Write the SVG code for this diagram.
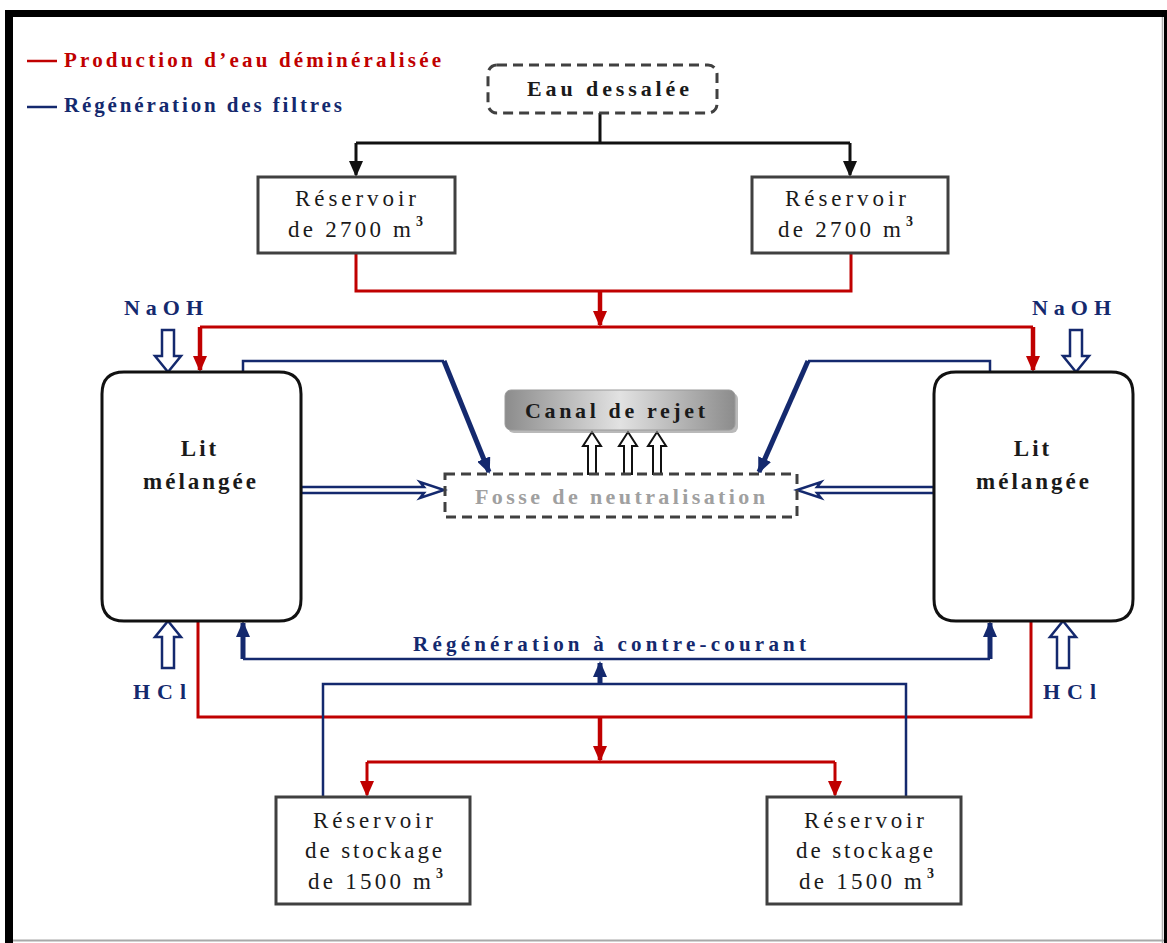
<svg xmlns="http://www.w3.org/2000/svg" width="1167" height="943" viewBox="0 0 1167 943">
  <style>
    text { font-family: "Liberation Serif", "DejaVu Serif", "Times New Roman", serif; font-weight: bold; }
    .reg { font-weight: normal; }
    .blk { fill: #1a1a1a; }
    .navy { fill: #14296e; }
    .red { fill: #c00000; }
    .box { fill: #ffffff; stroke: #404040; stroke-width: 3; }
    .dash { fill: #ffffff; stroke: #404040; stroke-width: 3; stroke-dasharray: 10 6; }
    .lit { fill: #ffffff; stroke: #111111; stroke-width: 3; }
    .lr { fill: none; stroke: #c00000; stroke-width: 3; }
    .lrt { fill: none; stroke: #c00000; stroke-width: 4.5; }
    .lb { fill: none; stroke: #14296e; stroke-width: 2.5; }
    .lbt { fill: none; stroke: #14296e; stroke-width: 5; }
    .lk { fill: none; stroke: #111111; stroke-width: 3; }
    .hollow { fill: #ffffff; stroke: #14296e; stroke-width: 2.5; stroke-linejoin: miter; }
    .hollowk { fill: #ffffff; stroke: #111111; stroke-width: 2; }
  </style>
  <defs>
    <marker id="ahRed" markerWidth="16" markerHeight="14" refX="14" refY="7" orient="auto" markerUnits="userSpaceOnUse">
      <path d="M0,0 L16,7 L0,14 Z" fill="#c00000"/>
    </marker>
    <marker id="ahBlue" markerWidth="16" markerHeight="14" refX="14" refY="7" orient="auto" markerUnits="userSpaceOnUse">
      <path d="M0,0 L16,7 L0,14 Z" fill="#14296e"/>
    </marker>
    <marker id="ahBlk" markerWidth="16" markerHeight="14" refX="14" refY="7" orient="auto" markerUnits="userSpaceOnUse">
      <path d="M0,0 L16,7 L0,14 Z" fill="#111111"/>
    </marker>
    <linearGradient id="metal" x1="0" y1="0" x2="1" y2="0">
      <stop offset="0" stop-color="#8c8c8c"/>
      <stop offset="0.5" stop-color="#e2e2e2"/>
      <stop offset="1" stop-color="#8c8c8c"/>
    </linearGradient>
  </defs>

  <!-- page frame -->
  <rect x="0" y="0" width="1167" height="943" fill="#ffffff"/>
  <rect x="5" y="10" width="1162" height="7" fill="#000000"/>
  <rect x="5" y="10" width="8" height="933" fill="#000000"/>
  <rect x="1164" y="10" width="3" height="933" fill="#000000"/>
  <line x1="1162.5" y1="17" x2="1162.5" y2="943" stroke="#b0b0b0" stroke-width="1.5"/>
  <line x1="13" y1="940.5" x2="1164" y2="940.5" stroke="#a8a8a8" stroke-width="2"/>

  <!-- legend -->
  <g id="legend">
    <line x1="27" y1="61" x2="57" y2="61" stroke="#c00000" stroke-width="2.5"/>
    <text x="64" y="67" class="red" font-size="21" textLength="377" lengthAdjust="spacing">Production d’eau déminéralisée</text>
    <line x1="27" y1="107" x2="57" y2="107" stroke="#14296e" stroke-width="2.5"/>
    <text x="64" y="112" class="navy" font-size="21" textLength="278" lengthAdjust="spacing">Régénération des filtres</text>
  </g>

  <!-- connectors -->
  <g id="connectors">
    <!-- feed water to the two reservoirs -->
    <path class="lk" d="M600,113 V143 M356,143 H850"/>
    <path class="lk" d="M356,143 V175" marker-end="url(#ahBlk)"/>
    <path class="lk" d="M850,143 V175" marker-end="url(#ahBlk)"/>

    <!-- production line (red) -->
    <path class="lr" d="M356,253 V291 H851 V253"/>
    <path class="lrt" d="M600,291 V325" marker-end="url(#ahRed)"/>
    <path class="lr" d="M200,327 H1033"/>
    <path class="lrt" d="M200,327 V370" marker-end="url(#ahRed)"/>
    <path class="lrt" d="M1033,327 V370" marker-end="url(#ahRed)"/>

    <path class="lr" d="M198,621 V717 H1031 V621"/>
    <path class="lrt" d="M600,717 V760" marker-end="url(#ahRed)"/>
    <path class="lr" d="M367,762 H835"/>
    <path class="lr" d="M367,762 V795" marker-end="url(#ahRed)"/>
    <path class="lr" d="M835,762 V795" marker-end="url(#ahRed)"/>

    <!-- regeneration rinse to the neutralisation pit -->
    <path class="lb" d="M243,372 V361 H444"/>
    <path class="lbt" d="M444,361 L489,472" marker-end="url(#ahBlue)"/>
    <path class="lb" d="M990,372 V361 H808"/>
    <path class="lbt" d="M808,361 L759,472" marker-end="url(#ahBlue)"/>

    <!-- counter-current regeneration -->
    <path class="lb" d="M323,797 V684 H906 V797"/>
    <path class="lbt" d="M600,684 V663" marker-end="url(#ahBlue)"/>
    <path class="lb" d="M243,659 H990"/>
    <path class="lbt" d="M243,659 V623" marker-end="url(#ahBlue)"/>
    <path class="lbt" d="M990,659 V623" marker-end="url(#ahBlue)"/>

    <!-- drains from the beds into the pit -->
    <polygon class="hollow" points="301,487 424,487 420,482 444,490 420,498 424,493 301,493"/>
    <polygon class="hollow" points="934,487 817,487 821,482 797,490 821,498 817,493 934,493"/>

    <!-- chemical dosing -->
    <polygon class="hollow" points="162,330 174,330 174,356 181,356 168,372 155,356 162,356"/>
    <polygon class="hollow" points="1070,330 1082,330 1082,356 1089,356 1076,372 1063,356 1070,356"/>
    <polygon class="hollow" points="162,668 174,668 174,637 181,637 168,621 155,637 162,637"/>
    <polygon class="hollow" points="1057,668 1069,668 1069,637 1076,637 1063,621 1050,637 1057,637"/>

    <!-- discharge to the outfall channel -->
    <polygon class="hollowk" points="588,474 596,474 596,446 601,446 592,432 583,446 588,446"/>
    <polygon class="hollowk" points="624,474 632,474 632,446 637,446 628,432 619,446 624,446"/>
    <polygon class="hollowk" points="653,474 661,474 661,446 666,446 657,432 648,446 653,446"/>
  </g>

  <g id="eau-dessalee">
    <rect class="dash" x="488" y="65" width="229" height="48" rx="9"/>
    <text x="527" y="96" class="blk" font-size="22" textLength="162" lengthAdjust="spacing">Eau dessalée</text>
  </g>

  <g id="reservoir-2700-g">
    <rect class="box" x="258" y="177" width="197" height="76"/>
    <text x="295" y="206" class="blk reg" font-size="23" textLength="121" lengthAdjust="spacing">Réservoir</text>
    <text x="288" y="237" class="blk reg" font-size="23" textLength="123" lengthAdjust="spacing">de 2700 m</text>
    <text x="416" y="226" class="blk" font-size="14">3</text>
  </g>

  <g id="reservoir-2700-d">
    <rect class="box" x="752" y="177" width="196" height="76"/>
    <text x="785" y="206" class="blk reg" font-size="23" textLength="121" lengthAdjust="spacing">Réservoir</text>
    <text x="778" y="237" class="blk reg" font-size="23" textLength="123" lengthAdjust="spacing">de 2700 m</text>
    <text x="906" y="226" class="blk" font-size="14">3</text>
  </g>

  <g id="naoh-g">
    <text x="124" y="315" class="navy" font-size="22" textLength="79" lengthAdjust="spacing">NaOH</text>
  </g>
  <g id="naoh-d">
    <text x="1032" y="315" class="navy" font-size="22" textLength="79" lengthAdjust="spacing">NaOH</text>
  </g>

  <g id="lit-g">
    <path class="lit" d="M124,372 H279 Q301,372 301,394 V599 Q301,621 279,621 H124 Q102,621 102,599 V394 Q102,372 124,372 Z"/>
    <text x="200" y="456" class="blk" font-size="23" text-anchor="middle" letter-spacing="3">Lit</text>
    <text x="201" y="489" class="blk" font-size="23" text-anchor="middle" letter-spacing="3">mélangée</text>
  </g>

  <g id="lit-d">
    <path class="lit" d="M956,372 H1111 Q1133,372 1133,394 V599 Q1133,621 1111,621 H956 Q934,621 934,599 V394 Q934,372 956,372 Z"/>
    <text x="1033" y="456" class="blk" font-size="23" text-anchor="middle" letter-spacing="3">Lit</text>
    <text x="1034" y="489" class="blk" font-size="23" text-anchor="middle" letter-spacing="3">mélangée</text>
  </g>

  <g id="canal-rejet">
    <rect x="508" y="393" width="230" height="40" rx="6" fill="#8a8a8a" opacity="0.6"/>
    <rect x="505" y="390" width="230" height="40" rx="6" fill="url(#metal)" stroke="#9a9a9a" stroke-width="1"/>
    <text x="525" y="418" class="blk" font-size="22" textLength="180" lengthAdjust="spacing">Canal de rejet</text>
  </g>

  <g id="fosse">
    <rect class="dash" x="445" y="474" width="352" height="43" style="fill:none"/>
    <text x="475" y="504" font-size="22" fill="#a0a0a0" textLength="290" lengthAdjust="spacing">Fosse de neutralisation</text>
  </g>

  <g id="hcl-g">
    <text x="133" y="699" class="navy" font-size="22" textLength="53" lengthAdjust="spacing">HCl</text>
  </g>
  <g id="hcl-d">
    <text x="1043" y="699" class="navy" font-size="22" textLength="53" lengthAdjust="spacing">HCl</text>
  </g>

  <g id="label-regeneration">
    <text x="413" y="651" class="navy" font-size="21" textLength="393" lengthAdjust="spacing">Régénération à contre-courant</text>
  </g>

  <g id="stockage-g">
    <rect class="box" x="276" y="797" width="194" height="107"/>
    <text x="313" y="828" class="blk reg" font-size="23" textLength="120" lengthAdjust="spacing">Réservoir</text>
    <text x="305" y="858" class="blk reg" font-size="23" textLength="137" lengthAdjust="spacing">de stockage</text>
    <text x="308" y="889" class="blk reg" font-size="23" textLength="123" lengthAdjust="spacing">de 1500 m</text>
    <text x="436" y="878" class="blk" font-size="14">3</text>
  </g>

  <g id="stockage-d">
    <rect class="box" x="767" y="797" width="194" height="107"/>
    <text x="804" y="828" class="blk reg" font-size="23" textLength="120" lengthAdjust="spacing">Réservoir</text>
    <text x="796" y="858" class="blk reg" font-size="23" textLength="137" lengthAdjust="spacing">de stockage</text>
    <text x="799" y="889" class="blk reg" font-size="23" textLength="123" lengthAdjust="spacing">de 1500 m</text>
    <text x="927" y="878" class="blk" font-size="14">3</text>
  </g>
</svg>
